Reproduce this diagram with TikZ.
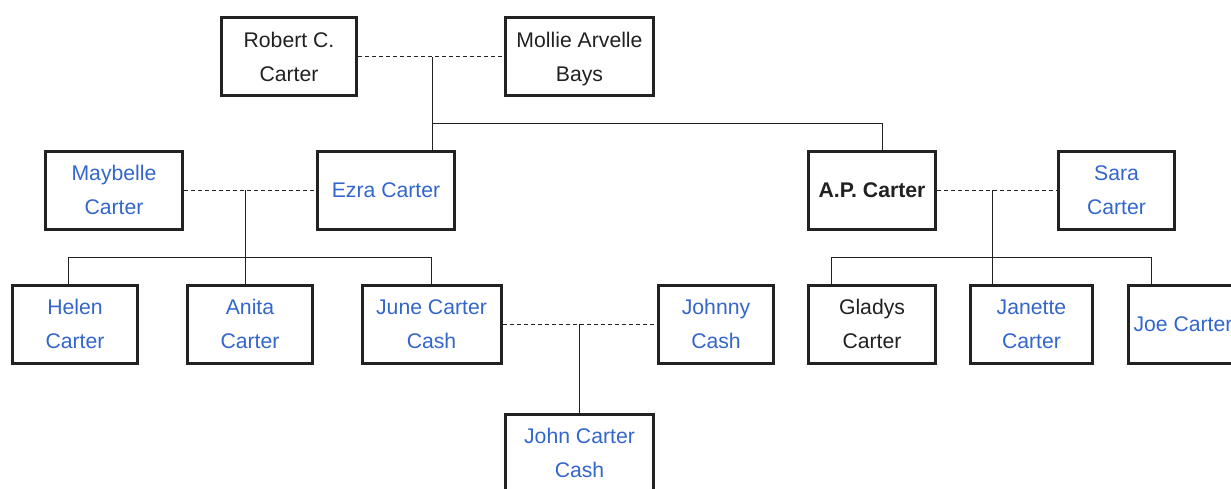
\documentclass[tikz,border=0pt]{standalone}
\usepackage{fontspec}
\setmainfont{Liberation Sans}
\usetikzlibrary{calc}
\definecolor{linkblue}{HTML}{3366CC}
\definecolor{nameblack}{HTML}{202122}
\definecolor{boxline}{HTML}{222222}

\begin{document}
\begin{tikzpicture}[x=0.5pt, y=-0.5pt,
    person/.style={draw=boxline, line width=1.5pt, align=center, inner sep=0pt,
        minimum height=39pt, text depth=0pt, text=nameblack,
        font=\fontsize{10.6}{17}\selectfont},
    linked/.style={person, text=linkblue},
    marriage/.style={draw=boxline, line width=0.5pt, dash pattern=on 2pt off 1.5pt},
    descent/.style={draw=boxline, line width=0.5pt}]
    	\useasboundingbox (0,0) rectangle (1231,488);
    	
    	% parents
    	\node[person, minimum width=67.5pt] (robert) at (289,56.5) {Robert C.\\Carter};
    	\node[person, minimum width=74pt] (mollie) at (579.5,56.5) {Mollie Arvelle\\Bays};
    	
    	% second generation
    	\node[linked, minimum width=68.5pt] (maybelle) at (114,190) {Maybelle\\Carter};
    	\node[linked, minimum width=68.5pt] (ezra) at (386,190) {Ezra Carter};
    	\node[person, minimum width=63.5pt] (ap) at (872,190) {\textbf{A.P. Carter}};
    	\node[linked, minimum width=58pt] (sara) at (1116.5,190) {Sara\\Carter};
    	
    	% third generation
    	\node[linked, minimum width=62.5pt] (helen) at (75,324) {Helen\\Carter};
    	\node[linked, minimum width=62.5pt] (anita) at (250,324) {Anita\\Carter};
    	\node[linked, minimum width=69.5pt] (june) at (431.5,324) {June Carter\\Cash};
    	\node[linked, minimum width=57.5pt] (johnny) at (716,324) {Johnny\\Cash};
    	\node[person, minimum width=63.5pt] (gladys) at (872,324) {Gladys\\Carter};
    	\node[linked, minimum width=61pt] (janette) at (1031.5,324) {Janette\\Carter};
    	\node[linked, minimum width=54.5pt] (joe) at (1183,324) {Joe Carter};
    	
    	% fourth generation
    	\node[linked, minimum width=74pt] (johncash) at (579.5,453) {John Carter\\Cash};
    	
    	% Robert and Mollie
    	\coordinate (rmj) at (432,56.5);
    	\coordinate (rmbar) at (882,123);
    	\draw[marriage] (robert.east) -- (mollie.west);
    	\draw[descent] (rmj) -- (rmj |- ezra.north);
    	\draw[descent] (rmj |- rmbar) -- (rmbar) -- (rmbar |- ap.north);
    	
    	% Maybelle and Ezra
    	\coordinate (mej) at (245,190);
    	\coordinate (mebar) at (68,257);
    	\draw[marriage] (maybelle.east) -- (ezra.west);
    	\draw[descent] (mej) -- (mej |- anita.north);
    	\draw[descent] (mebar |- helen.north) -- (mebar) -- (mebar -| june.north) -- (june.north);
    	
    	% June and Johnny
    	\coordinate (jjj) at (579.5,324);
    	\draw[marriage] (june.east) -- (johnny.west);
    	\draw[descent] (jjj) -- (johncash.north);
    	
    	% A.P. and Sara
    	\coordinate (asj) at (992,190);
    	\coordinate (asbarl) at (831,257);
    	\coordinate (asbarr) at (1151,257);
    	\draw[marriage] (ap.east) -- (sara.west);
    	\draw[descent] (asj) -- (asj |- janette.north);
    	\draw[descent] (asbarl |- gladys.north) -- (asbarl) -- (asbarr) -- (asbarr |- joe.north);
\end{tikzpicture}
\end{document}
